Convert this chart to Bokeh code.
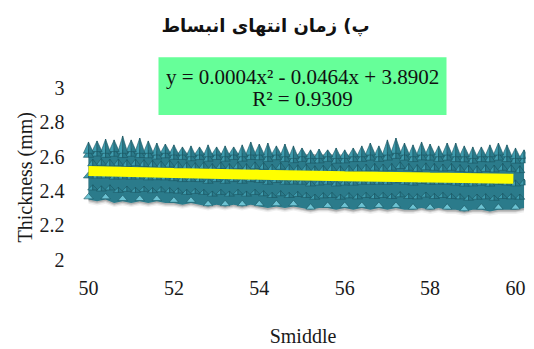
from bokeh.plotting import figure
from bokeh.models import Label, FixedTicker, Range1d, Title
from bokeh.embed import file_html
from bokeh.resources import INLINE

# Smiddle sample positions
smiddle = [50.0, 50.2, 50.4, 50.6, 50.8, 51.0, 51.2, 51.4, 51.6, 51.8,
           52.0, 52.2, 52.4, 52.6, 52.8, 53.0, 53.2, 53.4, 53.6, 53.8,
           54.0, 54.2, 54.4, 54.6, 54.8, 55.0, 55.2, 55.4, 55.6, 55.8,
           56.0, 56.2, 56.4, 56.6, 56.8, 57.0, 57.2, 57.4, 57.6, 57.8,
           58.0, 58.2, 58.4, 58.6, 58.8, 59.0, 59.2, 59.4, 59.6, 59.8,
           60.0, 60.2]

# thickness peaks (spike tips), ridge (upper body) and floor (lower body), mm
thick_peak = [2.686, 2.692, 2.703, 2.698, 2.721, 2.698, 2.709, 2.692, 2.680, 2.674,
              2.669, 2.657, 2.663, 2.657, 2.669, 2.657, 2.663, 2.657, 2.669, 2.686,
              2.674, 2.680, 2.663, 2.674, 2.663, 2.651, 2.640, 2.645, 2.640, 2.651,
              2.640, 2.651, 2.663, 2.680, 2.663, 2.698, 2.709, 2.680, 2.669, 2.686,
              2.674, 2.663, 2.680, 2.680, 2.663, 2.657, 2.657, 2.669, 2.680, 2.669,
              2.651, 2.640]
thick_ridge = [2.63, 2.64, 2.63, 2.64, 2.63, 2.64, 2.63, 2.63, 2.62, 2.63,
               2.62, 2.62, 2.61, 2.62, 2.61, 2.62, 2.61, 2.62, 2.61, 2.62,
               2.62, 2.61, 2.62, 2.61, 2.60, 2.61, 2.60, 2.60, 2.61, 2.60,
               2.60, 2.61, 2.61, 2.62, 2.61, 2.62, 2.63, 2.62, 2.61, 2.62,
               2.62, 2.61, 2.62, 2.61, 2.61, 2.60, 2.61, 2.61, 2.62, 2.61,
               2.60, 2.60]
thick_floor = [2.35, 2.34, 2.35, 2.33, 2.34, 2.33, 2.34, 2.33, 2.34, 2.33,
               2.33, 2.32, 2.33, 2.32, 2.31, 2.32, 2.31, 2.32, 2.31, 2.32,
               2.31, 2.30, 2.31, 2.30, 2.31, 2.30, 2.29, 2.30, 2.30, 2.29,
               2.30, 2.29, 2.30, 2.29, 2.30, 2.29, 2.30, 2.29, 2.29, 2.30,
               2.29, 2.30, 2.29, 2.29, 2.28, 2.29, 2.29, 2.28, 2.29, 2.29,
               2.29, 2.30]

# polynomial trend line
trend_x = [50.0, 52.0, 54.0, 56.0, 58.0, 59.95]
trend_y = [2.517, 2.505, 2.495, 2.486, 2.478, 2.471]

x_ticks = [50, 52, 54, 56, 58, 60]
y_ticks = [2, 2.2, 2.4, 2.6, 2.8, 3]

title_text = "پ) زمان انتهای انبساط"
x_title = "Smiddle"
y_title = "Thickness (mm)"
eq_line1 = "y = 0.0004x² - 0.0464x + 3.8902"
eq_line2 = "R² = 0.9309"

SERIF = "Liberation Serif"
BODY = "#2b7b8b"
LIGHT = "#3f9cae"
PALE = "#6cc3d3"
DARK = "#1b5561"
INK = "#1a1a1a"

p = figure(width=534, height=349, output_backend="svg", toolbar_location=None,
           x_range=Range1d(49.8126, 60.234), y_range=Range1d(1.9535, 3.5116),
           min_border_left=80, min_border_right=9, min_border_top=0,
           min_border_bottom=81)
p.outline_line_color = None
p.background_fill_color = "white"
p.border_fill_color = "white"
p.xgrid.visible = False
p.ygrid.visible = False

for ax in (p.xaxis[0], p.yaxis[0]):
    ax.axis_line_color = None
    ax.major_tick_line_color = None
    ax.minor_tick_line_color = None
    ax.major_label_text_font = SERIF
    ax.major_label_text_font_size = "20px"
    ax.major_label_text_color = INK

p.xaxis.ticker = FixedTicker(ticks=x_ticks)
p.yaxis.ticker = FixedTicker(ticks=y_ticks)
p.yaxis.major_label_overrides = {2: "2", 3: "3"}
p.xaxis.major_label_standoff = 7
p.yaxis.major_label_standoff = 10

# x title on the axis itself
p.xaxis.axis_label = x_title
p.xaxis.axis_label_text_font = SERIF
p.xaxis.axis_label_text_font_size = "20px"
p.xaxis.axis_label_text_font_style = "normal"
p.xaxis.axis_label_text_color = INK
p.xaxis.axis_label_standoff = 27

# y title in the left panel, anchored from the bottom of the frame
p.add_layout(Title(text=y_title, align="left", offset=25, standoff=0,
                   vertical_align="middle", text_font=SERIF,
                   text_font_size="20px", text_font_style="normal",
                   text_color=INK), "left")

n = len(smiddle)

# soft shadow under the band
for off, alpha in ((0.024, 0.08), (0.016, 0.16), (0.009, 0.26)):
    sx = [smiddle[0]] + smiddle + [smiddle[-1]]
    sy = [thick_ridge[0]] + [f - off for f in thick_floor] + [thick_ridge[-1]]
    p.patch(sx, sy, fill_color="#444444", fill_alpha=alpha, line_color=None)

# main body of the surface
p.varea(x=smiddle, y1=thick_floor, y2=thick_ridge, fill_color=BODY)

# interior rows of small pyramids (texture of the surface)
half_w = 0.12
for frac, h, shift in ((0.2, 0.03, 0.1), (0.45, 0.035, 0.0),
                       (0.7, 0.04, 0.1), (0.88, 0.045, 0.0)):
    lxs, lys, rxs, rys = [], [], [], []
    for i in range(n):
        xc = smiddle[i] + shift
        if xc > smiddle[-1]:
            continue
        base = thick_floor[i] + frac * (thick_ridge[i] - thick_floor[i])
        lxs.append([xc - half_w, xc, xc]); lys.append([base, base + h, base])
        rxs.append([xc, xc + half_w, xc]); rys.append([base, base, base + h])
    p.patches(lxs, lys, fill_color=LIGHT, line_color=DARK, line_width=0.6)
    p.patches(rxs, rys, fill_color=BODY, line_color=DARK, line_width=0.6)

# pyramids along the lower edge
bxs, bys = [], []
for i in range(0, n, 2):
    xc = smiddle[i]
    base = thick_floor[i] + 0.004
    bxs.append([xc - 0.11, xc, xc + 0.11]); bys.append([base, base + 0.032, base])
p.patches(bxs, bys, fill_color=PALE, line_color=DARK, line_width=0.6)

# spikes along the upper edge
lxs, lys, rxs, rys = [], [], [], []
for i in range(n):
    xc = smiddle[i]
    lo = thick_ridge[i] - 0.01
    lxs.append([xc - 0.12, xc, xc]); lys.append([lo, thick_peak[i], lo])
    rxs.append([xc, xc + 0.12, xc]); rys.append([thick_peak[i], lo, lo])
p.patches(lxs, lys, fill_color=LIGHT, line_color=DARK, line_width=0.6)
p.patches(rxs, rys, fill_color=BODY, line_color=DARK, line_width=0.6)

# trend line
p.line(trend_x, trend_y, line_color="#ffff00", line_width=10, line_cap="butt")

# equation box
p.quad(left=[51.639], right=[58.384], top=[3.180], bottom=[2.843],
       fill_color="#66ff99", line_color=None)
for txt, yy in ((eq_line1, 3.064), (eq_line2, 2.936)):
    p.add_layout(Label(x=55.012, y=yy, text=txt, text_align="center",
                       text_baseline="middle", text_font=SERIF,
                       text_font_size="21px", text_color="#111111"))

# chart title
p.add_layout(Label(x=54.145, y=3.366, text=title_text, text_align="center",
                   text_baseline="middle", text_font="DejaVu Sans",
                   text_font_style="bold", text_font_size="18px",
                   text_color="#111111"))

open("out.html", "w").write(file_html(p, INLINE))
